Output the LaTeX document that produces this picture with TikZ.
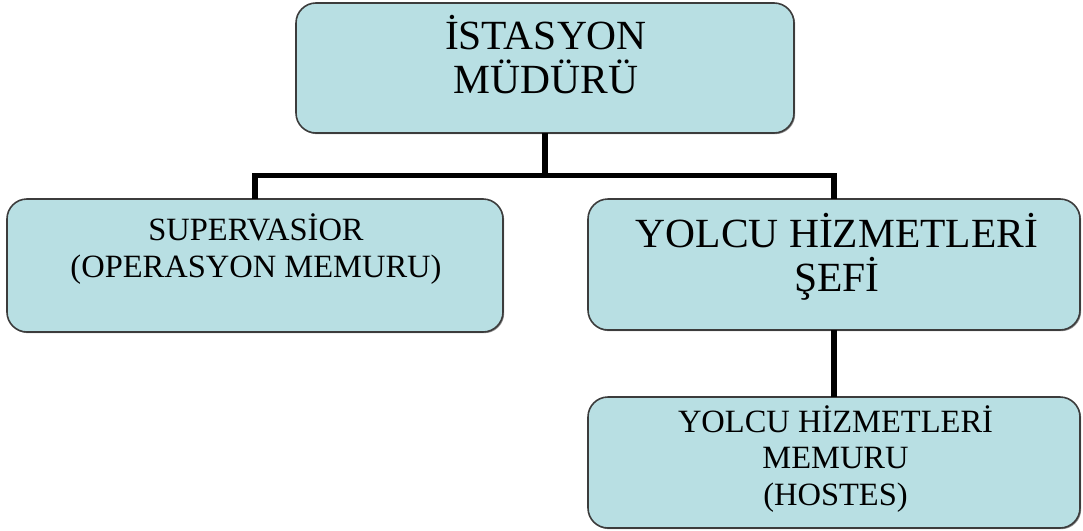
\documentclass[tikz,border=0pt]{standalone}
\usepackage{fontspec}
\setmainfont{Liberation Serif}
\usetikzlibrary{shadows}
\definecolor{boxfill}{RGB}{184,223,227}
\definecolor{boxline}{RGB}{60,60,60}
\begin{document}
\begin{tikzpicture}[x=1pt,y=-1pt,
  orgbox/.style={rectangle, rounded corners=20pt, draw=boxline, line width=1.6pt,
    fill=boxfill, inner sep=0pt, outer sep=0pt,
    drop shadow={shadow xshift=1.2pt, shadow yshift=-1.2pt, opacity=0.45, fill=black}},
  bigtxt/.style={anchor=base, align=center, inner sep=0pt, font=\fontsize{41.5}{44}\selectfont},
  smalltxt/.style={anchor=base, align=center, inner sep=0pt, font=\fontsize{32.5}{36.5}\selectfont},
  conn/.style={line width=5.5pt, draw=black, line join=miter}]
\useasboundingbox (0,0) rectangle (1083,530);
\fill[white] (0,0) rectangle (1083,530);

\node[orgbox, minimum width=498pt, minimum height=130pt] (top) at (545,68) {};
\node[orgbox, minimum width=496pt, minimum height=133pt] (left) at (255,265.5) {};
\node[orgbox, minimum width=492pt, minimum height=131pt] (right) at (834,264.5) {};
\node[orgbox, minimum width=492pt, minimum height=131pt] (bottom) at (834,462.5) {};

\node[bigtxt] (toptxt) at (546,93) {İSTASYON\\MÜDÜRÜ};
\node[smalltxt] (lefttxt) at (256,277) {SUPERVASİOR\\(OPERASYON MEMURU)};
\node[bigtxt] (righttxt) at (837,291) {YOLCU HİZMETLERİ\\ŞEFİ};
\node[smalltxt] (bottomtxt) at (835.5,505) {YOLCU HİZMETLERİ\\MEMURU\\(HOSTES)};

\coordinate (j) at (545,175.5);
\draw[conn] (top.south) -- (j);
\draw[conn] (left.north) |- (j) -| (right.north);
\draw[conn] (right.south) -- (bottom.north);
\end{tikzpicture}
\end{document}
